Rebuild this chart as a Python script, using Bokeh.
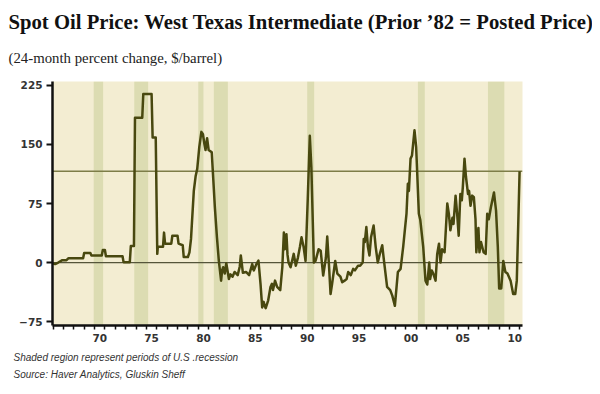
from bokeh.plotting import figure
from bokeh.models import Title, Span, BoxAnnotation, FixedTicker, Range1d
from bokeh.embed import file_html
from bokeh.resources import INLINE

# ---- data ----
years = [1966.0, 1966.2, 1966.5, 1966.9, 1967.3, 1967.5, 1968.9, 1969.0, 1969.6, 1969.7, 1970.7, 1970.8,
         1971.0, 1971.1, 1972.7, 1972.8, 1973.4, 1973.5, 1973.8, 1973.9, 1974.6, 1974.7, 1975.5, 1975.6,
         1975.9, 1976.05, 1976.1, 1976.6, 1976.7, 1976.8, 1977.4, 1977.5, 1978.0, 1978.1, 1978.5, 1978.6,
         1979.0, 1979.15, 1979.3, 1979.4, 1979.57, 1979.75, 1979.9, 1980.1, 1980.3, 1980.45, 1980.6, 1980.7,
         1980.85, 1981.0, 1981.3, 1981.45, 1981.6, 1981.8, 1981.98, 1982.2, 1982.3, 1982.4, 1982.55, 1982.7,
         1982.95, 1983.1, 1983.3, 1983.5, 1983.8, 1984.0, 1984.1, 1984.3, 1984.6, 1984.9, 1985.2, 1985.35,
         1985.6, 1985.8, 1986.0, 1986.16, 1986.3, 1986.4, 1986.5, 1986.74, 1986.96, 1987.1, 1987.2, 1987.4,
         1987.6, 1987.9, 1988.1, 1988.25, 1988.35, 1988.5, 1988.6, 1988.7, 1988.9, 1989.2, 1989.4, 1989.6,
         1989.8, 1989.95, 1990.15, 1990.34, 1990.55, 1990.75, 1990.9, 1991.14, 1991.3, 1991.6, 1991.8,
         1992.04, 1992.3, 1992.43, 1992.6, 1992.75, 1992.9, 1993.2, 1993.4, 1993.7, 1993.87, 1994.1, 1994.3,
         1994.45, 1994.7, 1994.93, 1995.1, 1995.4, 1995.6, 1995.85, 1995.95, 1996.05, 1996.2, 1996.35,
         1996.5, 1996.65, 1996.9, 1997.1, 1997.3, 1997.5, 1997.73, 1997.9, 1998.2, 1998.5, 1998.7, 1998.95,
         1999.24, 1999.5, 1999.75, 1999.9, 2000.07, 2000.2, 2000.3, 2000.46, 2000.6, 2000.84, 2001.0,
         2001.26, 2001.4, 2001.68, 2001.9, 2002.07, 2002.26, 2002.35, 2002.5, 2002.65, 2002.87, 2003.03,
         2003.2, 2003.35, 2003.5, 2003.74, 2004.0, 2004.15, 2004.3, 2004.5, 2004.6, 2004.8, 2004.95, 2005.1,
         2005.26, 2005.4, 2005.5, 2005.66, 2005.8, 2006.0, 2006.1, 2006.24, 2006.4, 2006.56, 2006.72,
         2006.8, 2007.0, 2007.1, 2007.25, 2007.5, 2007.7, 2007.85, 2008.0, 2008.2, 2008.5, 2008.7, 2008.87,
         2009.0, 2009.2, 2009.4, 2009.6, 2009.8, 2010.1, 2010.35, 2010.55, 2010.7, 2010.97]
values = [-1, -2, 0, 3, 3, 5.5, 5.5, 12, 12, 9, 9, 16,
          16, 8, 8, 0.5, 0.5, 21, 21, 184, 184, 214, 214, 159,
          159, 11, 20, 20, 38, 24, 24, 34, 34, 24, 22, 7,
          7, 13, 30, 53, 91, 110, 119, 147, 166, 163, 150, 143,
          158, 143, 140, 105, 70, 32, 2.5, -23, -10, -6, -14, -1,
          -21, -15, -18, -12, -16, -5, 9, -13, -12, -16, -2, -10,
          -2, 2.5, -27, -57, -50, -55, -58, -48, -31, -27, -35, -23,
          -31, -35, -6, 38, 17, 36, 10, 0, -6, 11, -4, 6,
          20, 32, 20, 2, 80, 161, 121, 0, 2, 17, 15,
          -16.5, 6, 33, -4, -40, -27, 2, -14, -18, -25, -23, -21,
          -12, -16, -8, -10, -4, -4, 0, 30, 26, 45, 20,
          9, 32, 47, 20, 0, 11, 22, 2, -31, -35, -42, -55,
          -12, -8, 20, 40, 62, 100, 91, 132, 136, 168, 147,
          62, 54, 20, -23, -28, 0, -21, -10, -14, -23, 11,
          24, 0, 17, 13, 75, 62, 41, 57, 49, 85, 62, 34,
          87, 79, 96, 132, 109, 87, 91, 72, 85, 83, 55,
          13, 44, 13, 26, 13, 11, 62, 55, 70, 89, 66, 20,
          -33, -33, 2, -12, -14, -23, -40, -40, -23, 116]

recession_start = [1969.92, 1973.83, 1980.0, 1981.5, 1990.5, 2001.17, 2007.92]
recession_end = [1970.83, 1975.17, 1980.5, 1982.85, 1991.17, 2001.83, 2009.5]

y_ticks = [-75, 0, 75, 150, 225]
x_tick_years = [1970, 1975, 1980, 1985, 1990, 1995, 2000, 2005, 2010]
x_tick_labels = ["70", "75", "80", "85", "90", "95", "00", "05", "10"]
minor_years = list(range(1966, 2012))

title_text = "Spot Oil Price: West Texas Intermediate (Prior \u201982 = Posted Price)"
subtitle_text = "(24-month percent change, $/barrel)"
note_text = "Shaded region represent periods of U.S .recession"
source_text = "Source: Haver Analytics, Gluskin Sheff"

# ---- figure ----
p = figure(width=592, height=386, x_range=Range1d(1965.95, 2011.25), y_range=Range1d(-80, 230),
           output_backend="svg", toolbar_location=None,
           min_border_left=52, min_border_right=70, min_border_top=81, min_border_bottom=61)
p.background_fill_color = "#f3edd2"
p.border_fill_color = "white"
p.outline_line_color = None
p.grid.visible = False

# titles: p.title is outermost, later "above" titles sit closer to the frame
p.title.text = title_text
p.title.text_font = "Liberation Serif"
p.title.text_font_size = "20.7px"
p.title.text_font_style = "bold"
p.title.text_color = "#111111"
p.title.align = "left"
p.title.offset = -44
p.title.standoff = 0
p.add_layout(Title(text=subtitle_text, text_font="Liberation Serif", text_font_size="14.8px",
                   text_font_style="normal", text_color="#222222", align="left", offset=-44,
                   standoff=31), "above")

# recession shading
for s, e in zip(recession_start, recession_end):
    p.add_layout(BoxAnnotation(left=s, right=e, fill_color="#dcdcb2", fill_alpha=1.0,
                               line_color=None, level="underlay"))

p.add_layout(Span(location=0, dimension="width", line_color="#55553a", line_width=1.2,
                  level="underlay"))
p.add_layout(Span(location=values[-1], dimension="width", line_color="#7d7d48", line_width=1.5,
                  level="underlay"))

p.line(years, values, line_color="#48480f", line_width=2.5, line_join="round")

# axes
xt = FixedTicker(ticks=[y + 0.5 for y in x_tick_years], minor_ticks=minor_years)
p.xaxis.ticker = xt
p.xaxis.major_label_overrides = {y + 0.5: lab for y, lab in zip(x_tick_years, x_tick_labels)}
p.xaxis.major_tick_out = 0
p.xaxis.major_tick_in = 0
p.xaxis.minor_tick_out = 4
p.xaxis.minor_tick_in = 0
p.xaxis.minor_tick_line_width = 1.5
p.xaxis.minor_tick_line_color = "#111111"
p.xaxis.axis_line_width = 2.5
p.xaxis.axis_line_color = "#111111"
p.xaxis.major_label_standoff = 4
p.xaxis.major_label_text_font = "DejaVu Sans"
p.xaxis.major_label_text_font_style = "bold"
p.xaxis.major_label_text_font_size = "10.5px"
p.xaxis.major_label_text_color = "#333333"

p.yaxis.ticker = FixedTicker(ticks=y_ticks, minor_ticks=[])
p.yaxis.major_tick_out = 6
p.yaxis.major_tick_in = 0
p.yaxis.major_tick_line_width = 2
p.yaxis.major_tick_line_color = "#111111"
p.yaxis.axis_line_width = 2.5
p.yaxis.axis_line_color = "#111111"
p.yaxis.major_label_standoff = 4
p.yaxis.major_label_text_font = "DejaVu Sans"
p.yaxis.major_label_text_font_style = "bold"
p.yaxis.major_label_text_font_size = "10.5px"
p.yaxis.major_label_text_color = "#333333"

# footnotes below
p.add_layout(Title(text=note_text, text_font="Liberation Sans", text_font_size="10px",
                   text_font_style="italic", text_color="#333333", align="left", offset=-39,
                   standoff=11), "below")
p.add_layout(Title(text=source_text, text_font="Liberation Sans", text_font_size="10px",
                   text_font_style="italic", text_color="#333333", align="left", offset=-39,
                   standoff=-3), "below")

open("out.html", "w").write(file_html(p, INLINE))
